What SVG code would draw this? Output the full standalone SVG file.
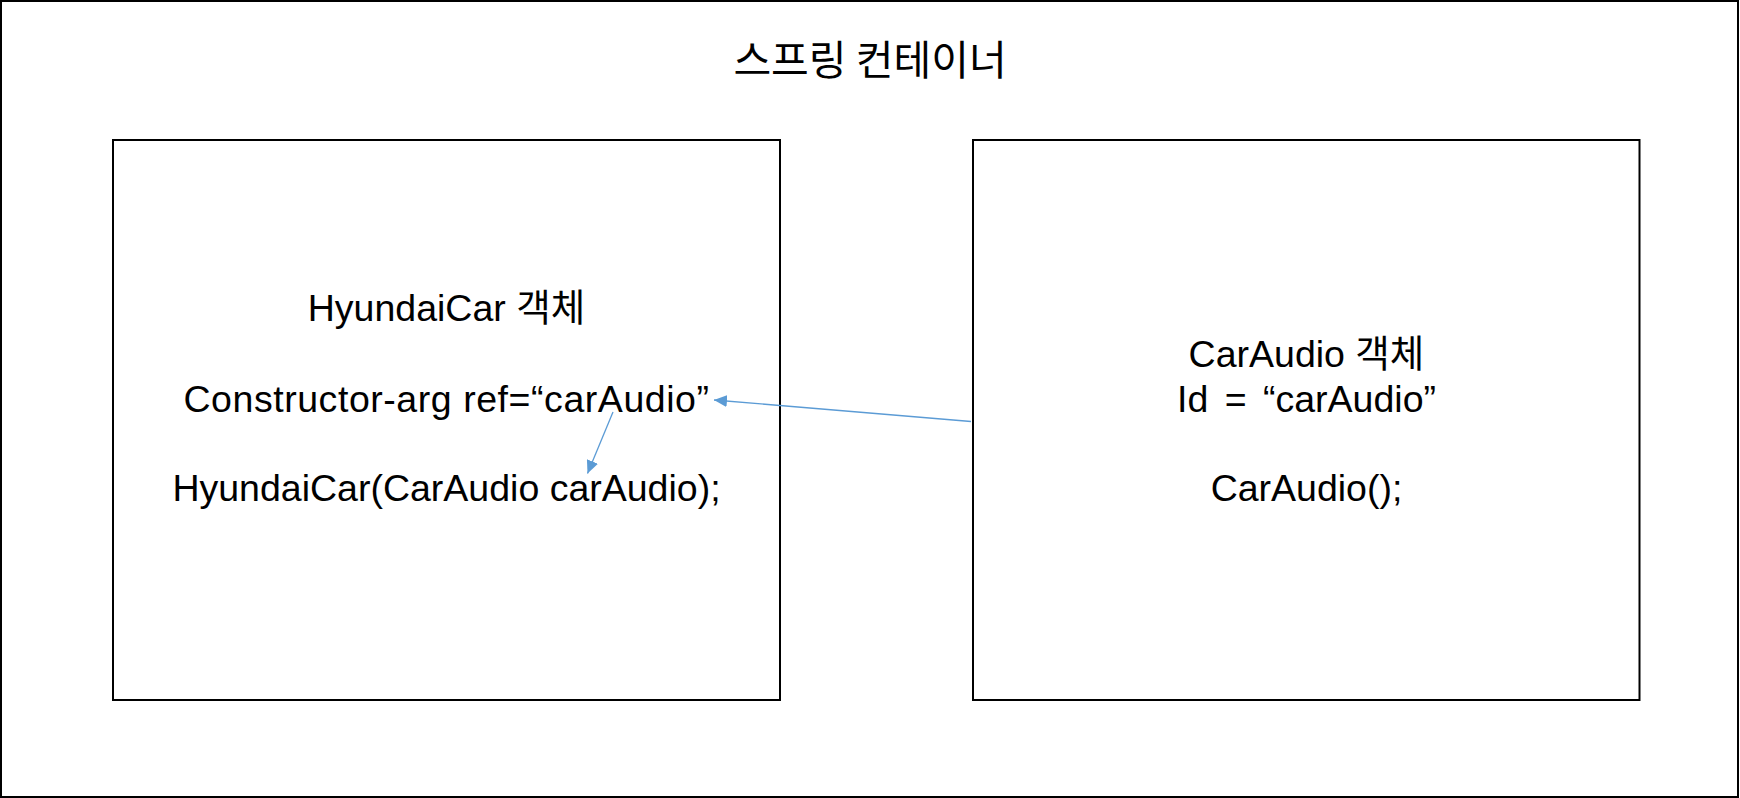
<svg xmlns="http://www.w3.org/2000/svg" width="1740" height="798" viewBox="0 0 1740 798">
  <style>
    .box { fill: #ffffff; stroke: #000000; stroke-width: 2; }
    .t { font-family: "Liberation Sans", "Noto Sans CJK KR", sans-serif; font-size: 37.5px; fill: #000000; text-anchor: middle; }
    .title { font-family: "Noto Sans CJK KR", "Liberation Sans", sans-serif; font-size: 41px; fill: #000000; text-anchor: middle; }
    .conn { stroke: #5B9BD5; stroke-width: 1.3; fill: none; marker-end: url(#arrow); }
  </style>
  <defs>
    <marker id="arrow" markerUnits="userSpaceOnUse" markerWidth="14" markerHeight="12" refX="13" refY="6" orient="auto">
      <path d="M0,0 L13,6 L0,12 Z" fill="#5B9BD5"/>
    </marker>
  </defs>
  <rect width="1740" height="798" fill="#ffffff"/>
  <g id="container">
    <rect class="box" x="1" y="1" width="1737" height="796"/>
    <text class="title" x="870" y="75">스프링 컨테이너</text>
  </g>
  <g id="hyundaiCar">
    <rect class="box" x="113" y="140" width="667" height="560"/>
    <text class="t" x="446.5" y="321">HyundaiCar 객체</text>
    <text class="t" x="446.5" y="412" letter-spacing="0.55">Constructor-arg ref=“carAudio”</text>
    <text class="t" x="446.5" y="501">HyundaiCar(CarAudio carAudio);</text>
  </g>
  <g id="carAudio">
    <rect class="box" x="973" y="140" width="666.5" height="560"/>
    <text class="t" x="1306.5" y="367">CarAudio 객체</text>
    <text class="t" x="1306.5" y="412" word-spacing="6">Id = “carAudio”</text>
    <text class="t" x="1306.5" y="501">CarAudio();</text>
  </g>
  <g id="connectors">
    <line class="conn" x1="971" y1="421.5" x2="714" y2="400"/>
    <line class="conn" x1="613" y1="412" x2="587.5" y2="473.5"/>
  </g>
</svg>
